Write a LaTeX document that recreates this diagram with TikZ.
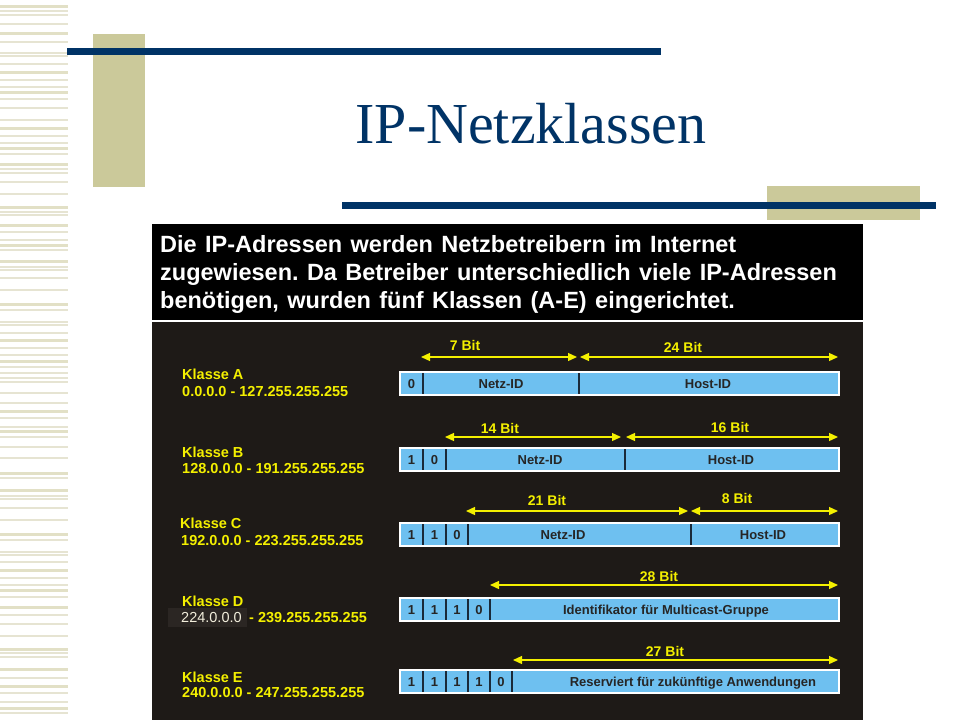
\documentclass[tikz,border=0pt]{standalone}
\usepackage{fontspec}
\setmainfont{Liberation Sans}
\newfontfamily\titlefont{Liberation Serif}
\usetikzlibrary{arrows.meta}
\frenchspacing
\newcommand\hdrspacing{\spaceskip 8.4pt\relax}
\definecolor{navy}{HTML}{003366}
\definecolor{tan}{HTML}{CBC99A}
\definecolor{stripe}{HTML}{E2E0C6}
\definecolor{stripethin}{HTML}{E6E4D2}
\definecolor{panel}{HTML}{1E1A17}
\definecolor{barblue}{HTML}{6EC0F0}
\definecolor{divider}{HTML}{1A2A3A}
\definecolor{ylw}{HTML}{F4F000}
\definecolor{boxD}{HTML}{2B2623}
\definecolor{cream}{HTML}{F2EEDC}
\tikzset{
  lbl/.style={font=\bfseries\fontsize{14.5}{16}\selectfont, text=ylw, anchor=base west, inner sep=0pt},
  bitlbl/.style={font=\bfseries\fontsize{14}{16}\selectfont, text=ylw, inner sep=0pt, anchor=base},
  bartxt/.style={font=\bfseries\fontsize{13}{15}\selectfont, text=black!85, inner sep=0pt, anchor=base},
  barbox/.style={fill=barblue, draw=white, line width=1.5pt},
  divline/.style={draw=divider, line width=1.4pt},
  dim/.style={draw=ylw, line width=1.3pt, {Triangle[length=9pt,width=8pt]}-{Triangle[length=9pt,width=8pt]}},
  hdr/.style={font=\bfseries\fontsize{23.5}{26}\selectfont\hdrspacing, text=white, anchor=base west, inner sep=0pt}
}
\begin{document}
\begin{tikzpicture}[x=1pt,y=-1pt]
\useasboundingbox (0,0) rectangle (960,720);
\fill[white] (0,0) rectangle (960,720);
% left stripes
\foreach \yy in {6.5,33.5,72,92.5,128,148.5,164.5,207,225,245.5,261,304.5,340.5,361,411,431.5,473,490.5,534.5,570.5,590.5,607,649.5,669.5,686,708}
  {\fill[stripe] (0,\yy-1.5) rectangle (68,\yy+1.5);}
\foreach \yy in {11,15,24,42,53,56,64,80,87,99,108,120,136,143,154,169,173,182,194,212,215,232,240,250,267,270,278,290,310,322,325,333,348,355,367,373,378,382,393,403,418,427,437,447,458,478,496,499,508,520,540,552,555,562,578,585,597,615,624,636,653,657,678,693,702,713}
  {\fill[stripethin] (0,\yy-0.6) rectangle (68,\yy+0.6);}
% decorations
\fill[tan] (93,34) rectangle (145,187);
\fill[navy] (67,48) rectangle (661,55);
\fill[tan] (767,186) rectangle (920,220);
\fill[navy] (342,202) rectangle (936,209);
% title
\node[font=\titlefont\fontsize{58}{60}\selectfont, text=navy, anchor=base, inner sep=0pt] (title) at (531,143) {IP-Netzklassen};
% header box
\fill[black] (152,224) rectangle (863,320);
\node[hdr] (h1) at (160,252.5) {Die IP-Adressen werden Netzbetreibern im Internet};
\node[hdr] (h2) at (160,280.5) {zugewiesen. Da Betreiber unterschiedlich viele IP-Adressen};
\node[hdr] (h3) at (160,308.5) {benötigen, wurden fünf Klassen (A-E) eingerichtet.};
% dark panel
\fill[panel] (152,322) rectangle (863,720);
% ---------- Class A
\node[lbl] (kA) at (182,379) {Klasse A};
\node[lbl] (rA) at (182,396) {0.0.0.0 - 127.255.255.255};
\draw[barbox] (400,372) rectangle (839,395);
\draw[divline] (423,373) -- (423,394);
\draw[divline] (579,373) -- (579,394);
\node[bartxt] (a0) at (411.5,388.5) {0};
\node[bartxt] (aN) at (501,388.5) {Netz-ID};
\node[bartxt] (aH) at (708,388.5) {Host-ID};
\coordinate (A1) at (421,357); \coordinate (A2) at (577,357);
\coordinate (A3) at (580,357); \coordinate (A4) at (838,357);
\draw[dim] (A1) -- (A2);
\draw[dim] (A3) -- (A4);
\node[bitlbl] (a7) at (465,350) {7 Bit};
\node[bitlbl] (a24) at (683,352) {24 Bit};
% ---------- Class B
\node[lbl] (kB) at (182,457) {Klasse B};
\node[lbl] (rB) at (182,473) {128.0.0.0 - 191.255.255.255};
\draw[barbox] (400,448) rectangle (839,471);
\foreach \xx in {423,446,625} {\draw[divline] (\xx,449) -- (\xx,470);}
\node[bartxt] (b1) at (411.5,464.5) {1};
\node[bartxt] (b0) at (434.5,464.5) {0};
\node[bartxt] (bN) at (540,464.5) {Netz-ID};
\node[bartxt] (bH) at (731,464.5) {Host-ID};
\coordinate (B1) at (445,437); \coordinate (B2) at (621,437);
\coordinate (B3) at (626,437); \coordinate (B4) at (838,437);
\draw[dim] (B1) -- (B2);
\draw[dim] (B3) -- (B4);
\node[bitlbl] (b14) at (500,433) {14 Bit};
\node[bitlbl] (b16) at (730,432) {16 Bit};
% ---------- Class C
\node[lbl] (kC) at (180,528) {Klasse C};
\node[lbl] (rC) at (181,545) {192.0.0.0 - 223.255.255.255};
\draw[barbox] (400,523) rectangle (839,546);
\foreach \xx in {423,446,468,691} {\draw[divline] (\xx,524) -- (\xx,545);}
\node[bartxt] (c1) at (411.5,539.5) {1};
\node[bartxt] (c2) at (434.5,539.5) {1};
\node[bartxt] (c0) at (457,539.5) {0};
\node[bartxt] (cN) at (563,539.5) {Netz-ID};
\node[bartxt] (cH) at (763,539.5) {Host-ID};
\coordinate (C1) at (466,511); \coordinate (C2) at (688,511);
\coordinate (C3) at (691,511); \coordinate (C4) at (838,511);
\draw[dim] (C1) -- (C2);
\draw[dim] (C3) -- (C4);
\node[bitlbl] (c21) at (547,505) {21 Bit};
\node[bitlbl] (c8) at (737,503) {8 Bit};
% ---------- Class D
\node[lbl] (kD) at (182,606) {Klasse D};
\fill[boxD] (168,608) rectangle (247,627);
\node[font=\fontsize{14.5}{16}\selectfont, text=cream, anchor=base west, inner sep=0pt] (dS) at (181,622) {224.0.0.0};
\node[lbl] (rD) at (249,622) {- 239.255.255.255};
\draw[barbox] (400,598) rectangle (839,621);
\foreach \xx in {423,446,468,490} {\draw[divline] (\xx,599) -- (\xx,620);}
\node[bartxt] (d1) at (411.5,614.5) {1};
\node[bartxt] (d2) at (434.5,614.5) {1};
\node[bartxt] (d3) at (457,614.5) {1};
\node[bartxt] (d0) at (479,614.5) {0};
\node[bartxt] (dI) at (666,614.5) {Identifikator für Multicast-Gruppe};
\coordinate (D1) at (490,585); \coordinate (D2) at (838,585);
\draw[dim] (D1) -- (D2);
\node[bitlbl] (d28) at (659,581) {28 Bit};
% ---------- Class E
\node[lbl] (kE) at (182,682) {Klasse E};
\node[lbl] (rE) at (182,697) {240.0.0.0 - 247.255.255.255};
\draw[barbox] (400,670) rectangle (839,693);
\foreach \xx in {423,446,468,490,512} {\draw[divline] (\xx,671) -- (\xx,692);}
\node[bartxt] (e1) at (411.5,686.5) {1};
\node[bartxt] (e2) at (434.5,686.5) {1};
\node[bartxt] (e3) at (457,686.5) {1};
\node[bartxt] (e4) at (479,686.5) {1};
\node[bartxt] (e0) at (501,686.5) {0};
\node[bartxt] (eR) at (693,686.5) {Reserviert für zukünftige Anwendungen};
\coordinate (E1) at (513,660); \coordinate (E2) at (838,660);
\draw[dim] (E1) -- (E2);
\node[bitlbl] (e27) at (665,656) {27 Bit};
\end{tikzpicture}
\end{document}
